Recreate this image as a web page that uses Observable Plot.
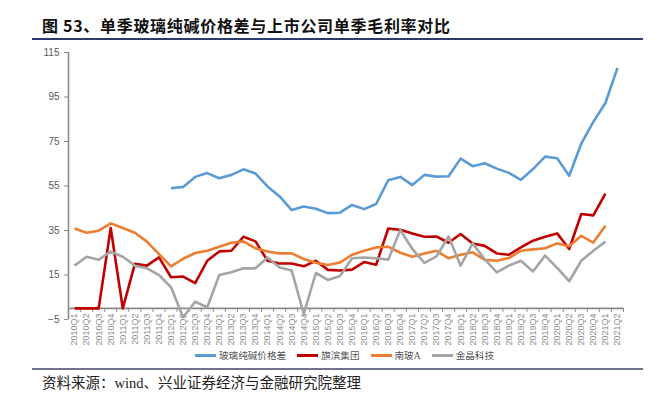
<!DOCTYPE html>
<html><head><meta charset="utf-8">
<script src="https://cdn.jsdelivr.net/npm/d3@7"></script>
<script src="https://cdn.jsdelivr.net/npm/@observablehq/plot@0.6"></script>
<style>
body{margin:0;background:#fff;}
#wrap{position:relative;width:659px;height:397px;overflow:hidden;font-family:"Noto Sans CJK SC",sans-serif;}
#chart{position:absolute;left:0;top:0;}
#title{position:absolute;left:42px;top:13px;font-size:16px;font-weight:bold;color:#111;white-space:nowrap;letter-spacing:0.7px;}
.hr{position:absolute;left:32px;width:611px;height:2px;background:#2e3b6a;}
#legend{position:absolute;left:195px;top:348px;display:flex;align-items:center;font-size:9.6px;color:#555;font-family:"Liberation Serif","Noto Sans CJK SC",serif;white-space:nowrap;}
#legend .sw{display:inline-block;width:21px;height:3px;margin-right:3px;}
#legend .it{display:flex;align-items:center;margin-right:11px;}
#source{position:absolute;left:42px;top:371px;font-size:14.5px;color:#222;font-family:"Liberation Serif","Noto Sans CJK SC",serif;white-space:nowrap;}
</style></head>
<body><div id="wrap">
<div id="title">图 53、单季玻璃纯碱价格差与上市公司单季毛利率对比</div>
<div class="hr" style="top:38px"></div>
<div id="chart"></div>
<div id="legend"></div>
<div class="hr" style="top:368px;height:1.5px;background:#6f7291"></div>
<div id="source">资料来源：wind、兴业证券经济与金融研究院整理</div>
</div>
<script>
const quarters = ["2010Q1","2010Q2","2010Q3","2010Q4","2011Q1","2011Q2","2011Q3","2011Q4",
"2012Q1","2012Q2","2012Q3","2012Q4","2013Q1","2013Q2","2013Q3","2013Q4",
"2014Q1","2014Q2","2014Q3","2014Q4","2015Q1","2015Q2","2015Q3","2015Q4",
"2016Q1","2016Q2","2016Q3","2016Q4","2017Q1","2017Q2","2017Q3","2017Q4",
"2018Q1","2018Q2","2018Q3","2018Q4","2019Q1","2019Q2","2019Q3","2019Q4",
"2020Q1","2020Q2","2020Q3","2020Q4","2021Q1","2021Q2"];

const seriesNames = ["玻璃纯碱价格差","旗滨集团","南玻A","金晶科技"];
const seriesColors = ["#5b9bd5","#c00000","#ed7d31","#a5a5a5"];

const spread = [null,null,null,null,null,null,null,null,
54.0,54.6,59.1,60.8,58.5,60.0,62.5,60.6,
54.8,50.3,44.2,45.8,44.8,42.8,43.0,46.5,
44.6,46.9,57.6,59.1,55.4,60.0,59.2,59.4,
67.3,63.9,65.2,62.8,60.9,57.8,62.6,68.2,
67.5,59.6,74.0,83.8,92.3,108.1];

const qibin = [0,0,0,36.1,0,20.0,19.2,22.9,
14.0,14.3,11.3,21.4,25.6,25.9,32.2,30.1,
21.4,20.2,20.2,18.9,21.4,17.3,17.0,17.4,
20.8,19.6,35.9,35.3,33.7,32.2,32.3,29.5,
33.4,29.2,28.1,24.7,24.1,27.4,30.4,32.2,
33.7,26.7,42.4,41.8,51.6,null];

const nanboA = [35.9,34.0,34.9,38.2,36.1,34.0,30.0,24.4,
18.9,22.3,24.9,25.9,27.7,29.5,30.1,27.0,
25.6,24.7,24.7,22.2,20.5,19.5,20.6,24.1,
25.9,27.4,27.7,25.0,23.2,24.7,25.9,22.5,
24.1,25.2,21.8,21.4,22.6,25.9,26.5,27.0,
29.2,27.9,32.6,29.6,37.1,null];

const jinjing = [19.2,23.2,21.9,25.5,23.2,19.2,18.0,15.0,
9.5,-4.0,3.0,0.5,15.0,16.2,18.0,18.0,
22.9,18.4,17.0,-2.5,15.9,12.8,14.5,22.5,
22.9,22.5,21.9,35.2,26.7,20.4,23.4,32.3,
19.2,29.2,22.0,16.2,19.2,21.4,16.6,23.7,
18.2,12.2,21.4,25.9,30.0,null];

const yTicks = [-5,15,35,55,75,95,115];

const seriesValues = [spread, qibin, nanboA, jinjing];
const rows = [];
seriesNames.forEach((name, s) => {
  quarters.forEach((q, i) => rows.push({i, q, name, v: seriesValues[s][i]}));
});
const bounds = d3.range(quarters.length + 1).map(k => k - 0.5);
const axisColor = "#8a8a8a";

const chart = Plot.plot({
  width: 659, height: 397,
  marginTop: 52, marginBottom: 78, marginLeft: 68, marginRight: 36,
  x: {type: "linear", domain: [-0.5, quarters.length - 0.5], axis: null},
  y: {domain: [-5, 115], axis: null},
  color: {domain: seriesNames, range: seriesColors},
  style: {fontFamily: "'Liberation Sans', Arial, sans-serif", background: "transparent"},
  marks: [
    Plot.axisY({ticks: yTicks, label: null, tickSize: 4, tickPadding: 5, fontSize: 10, fill: "#595959", stroke: axisColor, anchor: "left"}),
    Plot.ruleX([-0.5], {y1: -5, y2: 115, stroke: axisColor, strokeWidth: 1.6}),
    Plot.ruleY([0], {x1: -0.5, x2: quarters.length - 0.5, stroke: axisColor, strokeWidth: 1.6}),
    Plot.ruleX(bounds, {x: d => d, y1: 0, y2: -1.8, stroke: axisColor, strokeWidth: 1}),
    Plot.text(quarters, {x: (d, i) => i, y: 0, text: d => d, rotate: -90, textAnchor: "end", lineAnchor: "middle", dy: 5, fontSize: 9, fill: "#8c8c8c"}),
    Plot.line(rows, {x: "i", y: "v", z: "name", stroke: "name", strokeWidth: 2.6, strokeLinejoin: "round", strokeLinecap: "butt"})
  ]
});
document.getElementById("chart").appendChild(chart);

const legend = document.getElementById("legend");
seriesNames.forEach((n, k) => {
  const it = document.createElement("div");
  it.className = "it";
  it.innerHTML = `<span class="sw" style="background:${seriesColors[k]}"></span><span>${n}</span>`;
  legend.appendChild(it);
});
</script>
</body></html>
